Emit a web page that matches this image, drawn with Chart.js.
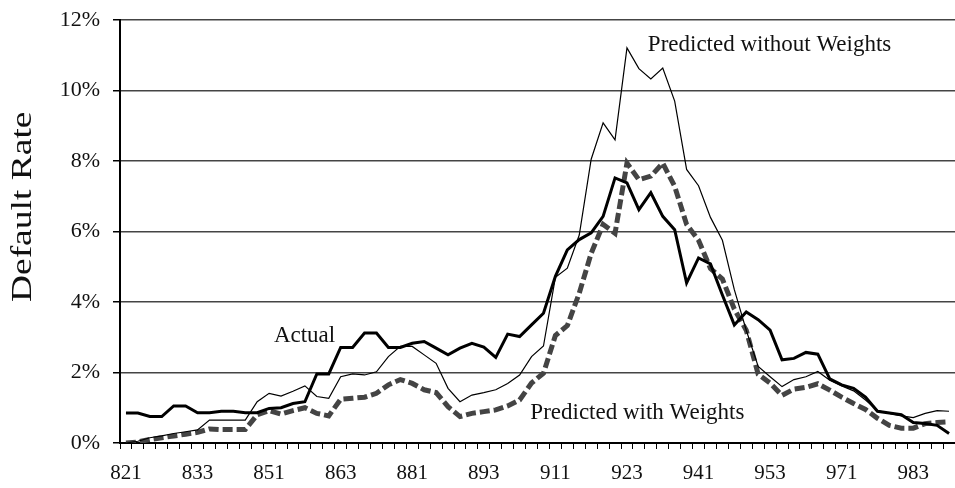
<!DOCTYPE html>
<html>
<head>
<meta charset="utf-8">
<script src="https://cdn.jsdelivr.net/npm/chart.js@4.4.0/dist/chart.umd.min.js"></script>
<style>
  html, body { margin: 0; padding: 0; background: #fff; }
  canvas { display: block; }
</style>
</head>
<body>
<canvas id="chart" width="955" height="488"></canvas>
<script>
const quarters = [
  '821', '822', '823', '824', '831', '832', '833', '834', '841', '842', '843', '844',
  '851', '852', '853', '854', '861', '862', '863', '864', '871', '872', '873', '874',
  '881', '882', '883', '884', '891', '892', '893', '894', '901', '902', '903', '904',
  '911', '912', '913', '914', '921', '922', '923', '924', '931', '932', '933', '934',
  '941', '942', '943', '944', '951', '952', '953', '954', '961', '962', '963', '964',
  '971', '972', '973', '974', '981', '982', '983', '984', '991', '992'
];

const actual = [
  0.85, 0.85, 0.75, 0.75, 1.05, 1.05, 0.86, 0.86, 0.9, 0.9,
  0.86, 0.86, 0.98, 1.0, 1.12, 1.17, 1.96, 1.96, 2.71, 2.71,
  3.12, 3.12, 2.71, 2.71, 2.83, 2.88, 2.69, 2.5, 2.69, 2.83,
  2.72, 2.43, 3.09, 3.02, 3.35, 3.68, 4.73, 5.48, 5.77, 5.96,
  6.43, 7.52, 7.38, 6.62, 7.1, 6.43, 6.05, 4.54, 5.25, 5.08,
  4.2, 3.35, 3.72, 3.5, 3.2, 2.36, 2.4, 2.57, 2.52, 1.82,
  1.65, 1.55, 1.3, 0.9, 0.85, 0.8, 0.58, 0.55, 0.5, 0.27
];

const predictedNoWeights = [
  0, 0.05, 0.15, 0.2, 0.27, 0.32, 0.37, 0.65, 0.65, 0.65,
  0.65, 1.17, 1.41, 1.33, 1.47, 1.62, 1.32, 1.27, 1.88, 1.96,
  1.93, 2.02, 2.45, 2.74, 2.74, 2.5, 2.26, 1.55, 1.17, 1.36,
  1.43, 1.51, 1.69, 1.93, 2.45, 2.75, 4.7, 4.96, 5.9, 8.05,
  9.08, 8.6, 11.21, 10.62, 10.33, 10.64, 9.7, 7.76, 7.3, 6.4,
  5.75, 4.35, 3.2, 2.17, 1.88, 1.6, 1.8, 1.88, 2.03, 1.78,
  1.62, 1.48, 1.22, 0.92, 0.84, 0.77, 0.72, 0.84, 0.92, 0.9
];

const predictedWeights = [
  0, 0.03, 0.1, 0.15, 0.2, 0.25, 0.3, 0.4, 0.38, 0.38,
  0.38, 0.8, 0.92, 0.82, 0.92, 1.0, 0.84, 0.77, 1.24, 1.27,
  1.3, 1.41, 1.65, 1.8, 1.69, 1.51, 1.43, 1.03, 0.75, 0.84,
  0.89, 0.94, 1.05, 1.22, 1.7, 1.98, 3.05, 3.33, 4.25, 5.38,
  6.2, 5.95, 7.94, 7.47, 7.57, 7.94, 7.28, 6.2, 5.75, 4.95,
  4.65, 3.8, 3.2, 1.95, 1.7, 1.35, 1.53, 1.58, 1.68, 1.5,
  1.3, 1.12, 0.95, 0.7, 0.5, 0.42, 0.42, 0.55, 0.58, 0.6
];

// every 6th quarter gets a label on the x axis
const LABEL_EVERY = 6;

// in-plot series names, anchored in data units (category index, percent)
const notes = [
  { text: 'Predicted without Weights', at: 43.75, value: 11.3 },
  { text: 'Actual', at: 12.4, value: 3.05 },
  { text: 'Predicted with Weights', at: 33.9, value: 0.85 }
];

const SERIF = "'Liberation Serif', 'Times New Roman', serif";

const notesPlugin = {
  id: 'notes',
  afterDraw(chart) {
    const { ctx, scales: { x, y } } = chart;
    ctx.save();
    ctx.fillStyle = '#111';
    ctx.font = `23px ${SERIF}`;
    ctx.textAlign = 'left';
    ctx.textBaseline = 'middle';
    notes.forEach(n => ctx.fillText(n.text, x.getPixelForValue(n.at), y.getPixelForValue(n.value)));

    // y axis title, a bit above the middle and stretched along its length as in the original
    ctx.translate(23, y.getPixelForValue(6.7));
    ctx.rotate(-Math.PI / 2);
    ctx.scale(1.25, 1);
    ctx.font = `30px ${SERIF}`;
    ctx.textAlign = 'center';
    ctx.fillText('Default Rate', 0, 0);
    ctx.restore();
  }
};

new Chart(document.getElementById('chart').getContext('2d'), {
  type: 'line',
  data: {
    labels: quarters,
    datasets: [
      { label: 'Actual', data: actual, borderColor: '#000', borderWidth: 3 },
      { label: 'Predicted without Weights', data: predictedNoWeights, borderColor: '#000', borderWidth: 1.2 },
      { label: 'Predicted with Weights', data: predictedWeights, borderColor: '#444', borderWidth: 5, borderDash: [10, 4] }
    ]
  },
  options: {
    responsive: false,
    animation: false,
    layout: { padding: { top: 20, right: 0, bottom: 0, left: 0 } },
    elements: { point: { radius: 0 }, line: { tension: 0, fill: false, borderCapStyle: 'butt' } },
    plugins: { legend: { display: false }, tooltip: { enabled: false } },
    scales: {
      x: {
        offset: true,
        afterFit: s => { s.height = 45; s.paddingLeft = 0; s.paddingRight = 0; },
        grid: { offset: true, drawOnChartArea: false, drawTicks: true, tickLength: 6, color: '#000', lineWidth: 1 },
        border: { color: '#000', width: 2 },
        ticks: {
          autoSkip: false, maxRotation: 0, padding: 12, color: '#111',
          font: { family: SERIF, size: 21 },
          callback: (v, i) => (i % LABEL_EVERY === 0 ? quarters[i] : '')
        }
      },
      y: {
        min: 0, max: 12,
        afterFit: s => { s.width = 120; s.paddingTop = 0; s.paddingBottom = 0; },
        grid: { color: '#444', lineWidth: 1.5, tickLength: 7, tickColor: '#000', tickWidth: 1.5 },
        border: { color: '#000', width: 2 },
        ticks: {
          stepSize: 2, padding: 13, color: '#111',
          font: { family: SERIF, size: 22 },
          callback: v => v + '%'
        }
      }
    }
  },
  plugins: [notesPlugin]
});
</script>
</body>
</html>
